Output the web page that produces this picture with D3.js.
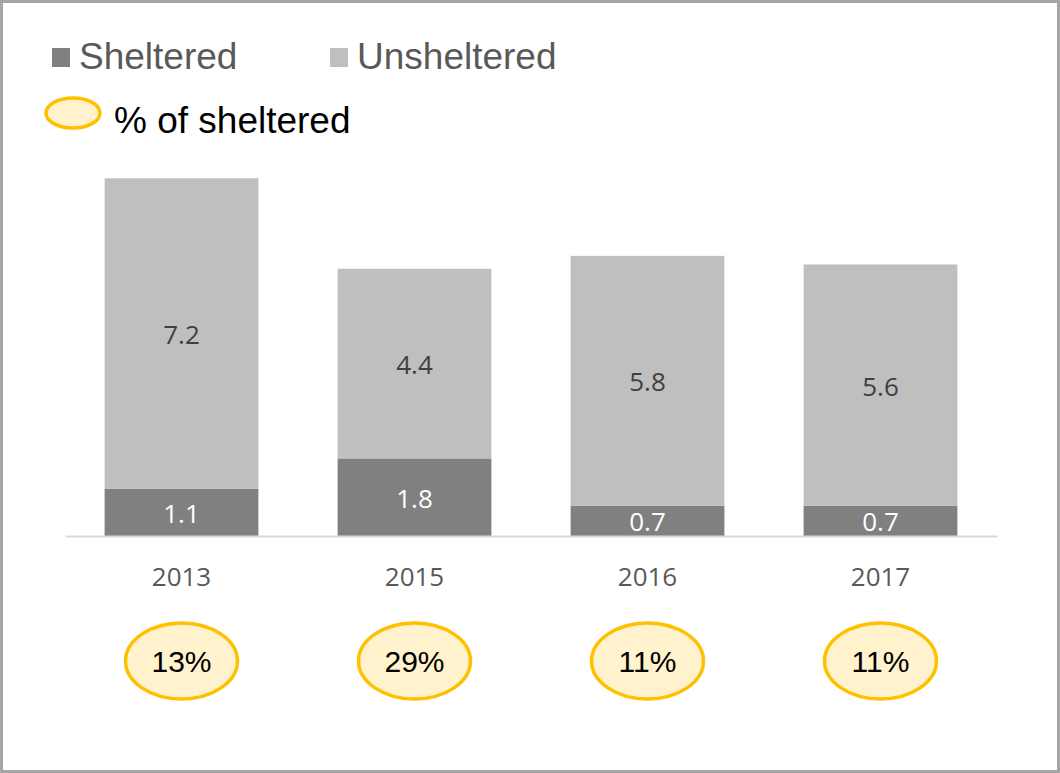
<!DOCTYPE html>
<html>
<head>
<meta charset="utf-8">
<script src="https://cdn.jsdelivr.net/npm/d3@7"></script>
<style>
  html, body { margin: 0; padding: 0; background: #fff; }
  svg { display: block; }
</style>
</head>
<body>
<svg id="chart" width="1060" height="773"></svg>
<script>
// Homeless counts (sheltered vs. unsheltered) by survey year
const years = ["2013", "2015", "2016", "2017"];
const sheltered = [1.1, 1.8, 0.7, 0.7];
const unsheltered = [7.2, 4.4, 5.8, 5.6];
const shareLabels = ["13%", "29%", "11%", "11%"];

const seriesNames = ["Sheltered", "Unsheltered"];
const seriesColors = ["#808080", "#bfbfbf"];

const W = 1060, H = 773;
const svg = d3.select("#chart");

// outer frame
svg.append("rect")
  .attr("x", 1.5).attr("y", 1.5)
  .attr("width", W - 3).attr("height", H - 3)
  .attr("fill", "#fff").attr("stroke", "#a6a6a6").attr("stroke-width", 3);

const x = d3.scaleBand().domain(years).range([65, 997]).paddingInner(0.34).paddingOuter(0.17);
const y = d3.scaleLinear().domain([0, 10]).range([536, 536 - 431]);

const rows = years.map((yr, i) => ({ year: yr, Sheltered: sheltered[i], Unsheltered: unsheltered[i] }));
const stacked = d3.stack().keys(seriesNames)(rows);

const layers = svg.append("g").selectAll("g")
  .data(stacked).join("g")
  .attr("fill", (d, i) => seriesColors[i]);

layers.selectAll("rect")
  .data(d => d).join("rect")
  .attr("x", d => x(d.data.year))
  .attr("y", d => y(d[1]))
  .attr("width", x.bandwidth())
  .attr("height", d => y(d[0]) - y(d[1]));

// segment value labels
stacked.forEach((layer, li) => {
  svg.append("g").selectAll("text")
    .data(layer).join("text")
    .attr("x", d => x(d.data.year) + x.bandwidth() / 2)
    .attr("y", d => (y(d[0]) + y(d[1])) / 2 + 1)
    .attr("dy", "0.36em")
    .attr("text-anchor", "middle")
    .attr("font-family", "'Open Sans', sans-serif")
    .attr("font-size", 26)
    .attr("fill", li === 0 ? "#ffffff" : "#404040")
    .text(d => d3.format(".1f")(d[1] - d[0]));
});

// category axis
const axis = svg.append("g").attr("transform", "translate(0,536)")
  .call(d3.axisBottom(x).tickSize(0).tickPadding(32));
axis.select(".domain").attr("stroke", "#d9d9d9").attr("stroke-width", 2);
axis.selectAll("text")
  .attr("font-family", "'Open Sans', sans-serif")
  .attr("font-size", 26)
  .attr("fill", "#595959");

// share-of-sheltered badges
const badges = svg.append("g").selectAll("g")
  .data(years).join("g")
  .attr("transform", d => `translate(${x(d) + x.bandwidth() / 2},661)`);
badges.append("ellipse")
  .attr("rx", 56).attr("ry", 38)
  .attr("fill", "#fff2cc").attr("stroke", "#ffc000").attr("stroke-width", 3.5);
badges.append("text")
  .attr("text-anchor", "middle").attr("dy", "0.36em")
  .attr("font-family", "'Liberation Sans', Arial, sans-serif")
  .attr("font-size", 30).attr("fill", "#000")
  .text((d, i) => shareLabels[i]);

// legend
const legend = svg.append("g");
const legendX = [52, 330];
seriesNames.forEach((name, i) => {
  legend.append("rect")
    .attr("x", legendX[i]).attr("y", 48).attr("width", 18).attr("height", 19)
    .attr("fill", seriesColors[i]);
  legend.append("text")
    .attr("x", legendX[i] + 27).attr("y", 69)
    .attr("font-family", "'Liberation Sans', Arial, sans-serif")
    .attr("font-size", 37).attr("fill", "#595959")
    .text(name);
});
legend.append("ellipse")
  .attr("cx", 73).attr("cy", 113).attr("rx", 27).attr("ry", 15)
  .attr("fill", "#fff2cc").attr("stroke", "#ffc000").attr("stroke-width", 3.5);
legend.append("text")
  .attr("x", 114).attr("y", 133)
  .attr("font-family", "'Liberation Sans', Arial, sans-serif")
  .attr("font-size", 37).attr("fill", "#000")
  .text("% of sheltered");
</script>
</body>
</html>
